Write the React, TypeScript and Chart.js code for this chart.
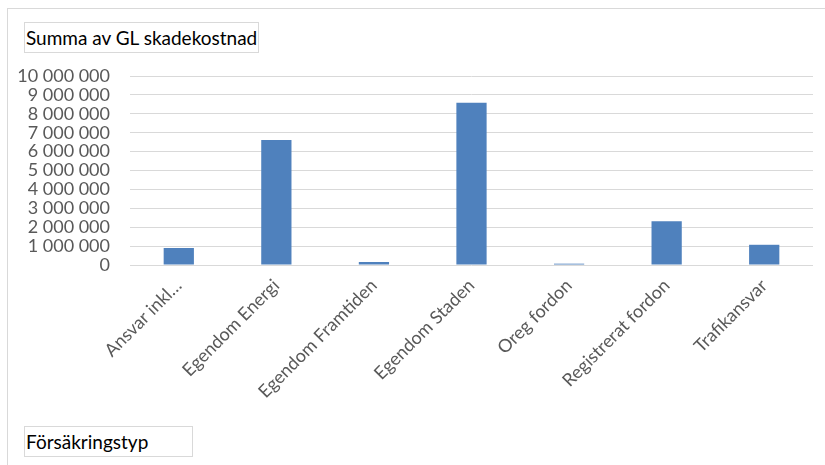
import React, { useEffect, useRef } from "react";
import { Chart, registerables } from "chart.js";

Chart.register(...registerables);

const categories: string[] = [
  "Ansvar inkl…",
  "Egendom Energi",
  "Egendom Framtiden",
  "Egendom Staden",
  "Oreg fordon",
  "Registrerat fordon",
  "Trafikansvar",
];
const values: number[] = [900000, 6620000, 160000, 8590000, 70000, 2320000, 1070000];
const seriesName = "Summa av GL skadekostnad";
const axisTitle = "Försäkringstyp";
const yMin = 0;
const yMax = 10000000;
const yStep = 1000000;

const FONT = "Lato, 'Open Sans', sans-serif";

function fmt(v: number): string {
  return String(Math.round(v)).replace(/\B(?=(\d{3})+(?!\d))/g, " ");
}

export default function App() {
  const ref = useRef<HTMLCanvasElement | null>(null);

  useEffect(() => {
    document.body.style.margin = "0";
    const canvas = ref.current;
    if (!canvas) return;
    const chart = new Chart(canvas, {
      type: "bar",
      data: {
        labels: categories,
        datasets: [
          {
            label: seriesName,
            data: values,
            backgroundColor: "#4F81BD",
            borderWidth: 0,
            barPercentage: 0.31,
            categoryPercentage: 1,
          },
        ],
      },
      options: {
        responsive: false,
        animation: false,
        devicePixelRatio: 1,
        layout: { padding: { top: 76, right: 12, left: 0, bottom: 0 } },
        plugins: {
          legend: { display: false },
          tooltip: { enabled: false },
          title: { display: false },
        },
        scales: {
          x: {
            offset: true,
            grid: { display: false, drawTicks: false },
            border: { display: false },
            ticks: {
              minRotation: 45,
              maxRotation: 45,
              autoSkip: false,
              padding: 10,
              color: "#595959",
              font: { family: FONT, size: 18 },
            },
            afterFit: (scale: any) => {
              scale.height = 200;
            },
          },
          y: {
            min: yMin,
            max: yMax,
            grid: { color: "#d9d9d9", lineWidth: 1, drawTicks: false },
            border: { display: false },
            ticks: {
              stepSize: yStep,
              autoSkip: false,
              padding: 20,
              color: "#595959",
              font: { family: FONT, size: 18 },
              callback: (v: any) => fmt(Number(v)),
            },
            afterFit: (scale: any) => {
              scale.width = 130;
            },
          },
        },
      },
    });
    return () => chart.destroy();
  }, []);

  const boxStyle: React.CSSProperties = {
    position: "absolute",
    border: "1px solid #d9d9d9",
    boxSizing: "border-box",
    fontFamily: FONT,
    fontSize: 19,
    color: "#000",
    paddingLeft: 1,
    display: "flex",
    alignItems: "center",
    background: "#fff",
    whiteSpace: "nowrap",
  };

  return (
    <div style={{ position: "relative", width: 825, height: 465, overflow: "hidden", background: "#fff" }}>
      <div
        style={{
          position: "absolute",
          left: 7,
          top: 8,
          width: 840,
          height: 480,
          border: "1px solid #d9d9d9",
          boxSizing: "border-box",
        }}
      />
      <canvas ref={ref} width={825} height={465} style={{ position: "absolute", left: 0, top: 0 }} />
      <div style={{ ...boxStyle, left: 24, top: 22, width: 235, height: 31 }}>{seriesName}</div>
      <div style={{ ...boxStyle, left: 24, top: 426, width: 169, height: 31 }}>{axisTitle}</div>
    </div>
  );
}
